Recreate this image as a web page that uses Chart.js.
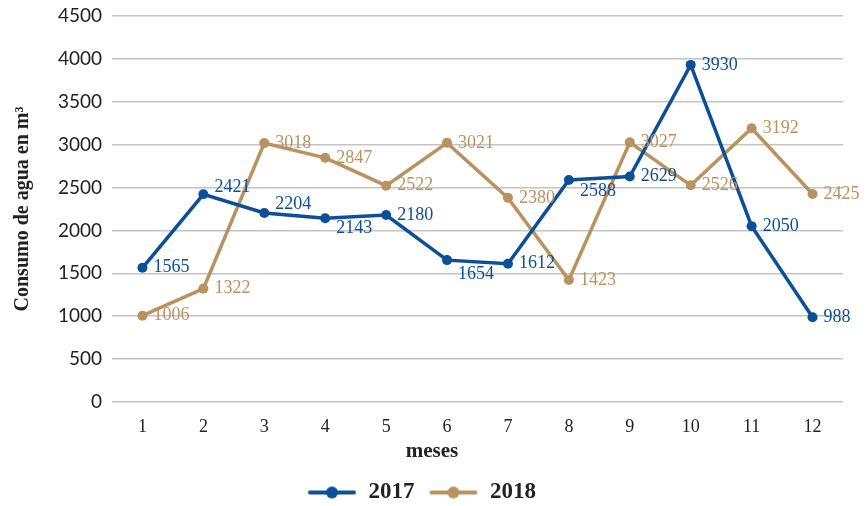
<!DOCTYPE html>
<html>
<head>
<meta charset="utf-8">
<script src="https://cdn.jsdelivr.net/npm/chart.js@4/dist/chart.umd.min.js"></script>
<style>
  html, body { margin: 0; padding: 0; background: #fff; }
  #wrap { width: 868px; height: 506px; }
</style>
</head>
<body>
<div id="wrap"><canvas id="c" width="868" height="506"></canvas></div>
<script>
"use strict";

// ── Data ─────────────────────────────────────────────────────────────────
const months = ["1", "2", "3", "4", "5", "6", "7", "8", "9", "10", "11", "12"];
const y2017 = [1565, 2421, 2204, 2143, 2180, 1654, 1612, 2588, 2629, 3930, 2050, 988];
const y2018 = [1006, 1322, 3018, 2847, 2522, 3021, 2380, 1423, 3027, 2526, 3192, 2425];
const yTicks = [0, 500, 1000, 1500, 2000, 2500, 3000, 3500, 4000, 4500];

const BLUE = "#0b4f98";
const TAN = "#b9935f";
const SERIF = "'Liberation Serif', 'DejaVu Serif', serif";

// label nudges (vertical) so value labels don't sit on the lines
const labelDy = {
  0: [0, -7, -9, 10, 0, 14, 0, 11, 0, 0, 0, 0],
  1: [0, 0, 0, 0, 0, 0, 0, 0, 0, 0, 0, 0],
};

// legend swatch: line with dot in the middle
function swatch(color) {
  const c = document.createElement("canvas");
  c.width = 50; c.height = 14;
  const g = c.getContext("2d");
  g.strokeStyle = color; g.lineWidth = 4; g.lineCap = "round";
  g.beginPath(); g.moveTo(3, 7); g.lineTo(47, 7); g.stroke();
  g.fillStyle = color;
  g.beginPath(); g.arc(25, 7, 6, 0, Math.PI * 2); g.fill();
  return c;
}

const valueLabels = {
  id: "valueLabels",
  afterDatasetsDraw(chart) {
    const ctx = chart.ctx;
    ctx.save();
    ctx.font = "18px " + SERIF;
    ctx.textBaseline = "middle";
    ctx.textAlign = "left";
    chart.data.datasets.forEach((ds, di) => {
      const meta = chart.getDatasetMeta(di);
      ctx.fillStyle = ds.borderColor;
      meta.data.forEach((pt, i) => {
        ctx.fillText(String(ds.data[i]), pt.x + 11, pt.y + labelDy[di][i]);
      });
    });
    // x axis title, centred on the page like the original
    ctx.fillStyle = "#222";
    ctx.textAlign = "center";
    ctx.font = "bold 21px " + SERIF;
    ctx.fillText("meses", chart.width / 2 - 2, 452);
    ctx.restore();
  },
};

new Chart(document.getElementById("c"), {
  type: "line",
  data: {
    labels: months,
    datasets: [
      { label: "2017", data: y2017, borderColor: BLUE, backgroundColor: BLUE },
      { label: "2018", data: y2018, borderColor: TAN, backgroundColor: TAN },
    ],
  },
  plugins: [valueLabels],
  options: {
    responsive: false,
    animation: false,
    layout: { padding: { left: 0, right: 25, top: 16, bottom: -8 } },
    elements: {
      line: { borderWidth: 3.5, tension: 0 },
      point: { radius: 5, hoverRadius: 5, borderWidth: 0 },
    },
    scales: {
      x: {
        offset: true,
        grid: { display: false },
        border: { display: false },
        ticks: { color: "#222", font: { family: SERIF, size: 18 }, padding: 6 },
        afterFit: (s) => { s.height = 65; },
      },
      y: {
        min: 0, max: 4500,
        afterBuildTicks: (s) => { s.ticks = yTicks.map((v) => ({ value: v })); },
        grid: { color: "#c4c4c4", lineWidth: 1.5, drawTicks: false },
        border: { display: false },
        ticks: { color: "#222", font: { family: "Lato, sans-serif", size: 19 }, padding: 10,
                 callback: (v) => String(v) },
        title: { display: true, text: "Consumo de agua en m³", color: "#222",
                 font: { family: SERIF, size: 20, weight: "bold" }, padding: { top: 11, bottom: 0 } },
        afterFit: (s) => { s.width = 112; s.paddingTop = 0; },
      },
    },
    plugins: {
      tooltip: { enabled: false },
      legend: {
        position: "bottom",
        labels: {
          color: "#222",
          font: { family: SERIF, size: 23, weight: "bold" },
          usePointStyle: true,
          pointStyleWidth: 50,
          padding: 14,
          generateLabels: (chart) => chart.data.datasets.map((ds, i) => ({
            text: ds.label,
            pointStyle: swatch(ds.borderColor),
            fillStyle: ds.borderColor,
            strokeStyle: ds.borderColor,
            fontColor: "#222",
            lineWidth: 0,
            datasetIndex: i,
          })),
        },
      },
    },
  },
});
</script>
</body>
</html>
